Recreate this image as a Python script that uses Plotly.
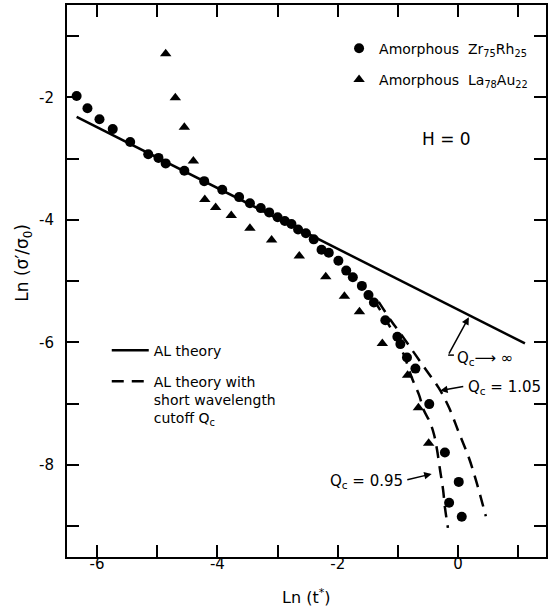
import plotly.graph_objects as go

# Amorphous Zr75Rh25 (circles)
zr_x = [-6.34, -6.16, -5.96, -5.74, -5.45, -5.15, -4.98, -4.86, -4.55, -4.22,
        -3.92, -3.64, -3.46, -3.28, -3.14, -3.00, -2.88, -2.77, -2.66, -2.53,
        -2.40, -2.27, -2.15, -1.99, -1.86, -1.75, -1.60, -1.49, -1.40, -1.21,
        -1.01, -0.96, -0.85, -0.71, -0.48, -0.22, 0.01, -0.15, 0.06]
zr_y = [-1.98, -2.18, -2.36, -2.52, -2.73, -2.93, -2.99, -3.08, -3.20, -3.37,
        -3.51, -3.63, -3.73, -3.81, -3.88, -3.96, -4.02, -4.07, -4.16, -4.22,
        -4.32, -4.49, -4.54, -4.67, -4.83, -4.94, -5.08, -5.23, -5.35, -5.64,
        -5.91, -6.03, -6.25, -6.43, -7.01, -7.80, -8.28, -8.62, -8.85]

# Amorphous La78Au22 (triangles)
la_x = [-4.86, -4.70, -4.55, -4.40, -4.21, -4.03, -3.77, -3.46, -3.10, -2.64,
        -2.20, -1.89, -1.64, -1.26, -0.84, -0.66, -0.49]
la_y = [-1.29, -2.01, -2.49, -3.04, -3.67, -3.80, -3.93, -4.14, -4.33, -4.59,
        -4.93, -5.25, -5.50, -6.02, -6.54, -7.07, -7.65]

# AL theory (solid line)
al_x = [-6.34, 1.11]
al_y = [-2.32, -6.02]

# AL theory with cutoff Qc = 1.05 (dashed)
q105_x = [-1.32, -1.12, -0.92, -0.72, -0.52, -0.32, -0.15, 0.01, 0.18, 0.31, 0.46]
q105_y = [-5.34, -5.64, -5.91, -6.19, -6.47, -6.75, -7.07, -7.47, -7.89, -8.30, -8.84]

# AL theory with cutoff Qc = 0.95 (dashed)
q095_x = [-1.40, -1.22, -1.05, -0.90, -0.77, -0.65, -0.57, -0.47, -0.40, -0.35,
          -0.30, -0.25, -0.22, -0.17]
q095_y = [-5.31, -5.60, -5.90, -6.21, -6.58, -6.86, -7.11, -7.30, -7.51, -7.76,
          -8.09, -8.41, -8.69, -9.03]

x_ticks = [-6, -5, -4, -3, -2, -1, 0, 1]
x_labels = ["-6", " ", "-4", " ", "-2", " ", "0", " "]
y_ticks = [-1, -2, -3, -4, -5, -6, -7, -8, -9]
y_labels = [" ", "-2", " ", "-4", " ", "-6", " ", "-8", " "]

X_RANGE = [-6.50, 1.46]
Y_RANGE = [-9.506, -0.494]

FONT = "DejaVu Sans"
DASH = "12px,8px"

fig = go.Figure()

fig.add_trace(go.Scatter(
    x=al_x, y=al_y, mode="lines", name="AL theory",
    line=dict(color="black", width=2.5),
    legend="legend2", legendgroup="al"))
fig.add_trace(go.Scatter(
    x=q105_x, y=q105_y, mode="lines", line_shape="spline",
    name="AL theory with<br>short wavelength<br>cutoff Q<sub>c</sub>",
    line=dict(color="black", width=2.5, dash=DASH),
    legend="legend2", legendgroup="alc"))
fig.add_trace(go.Scatter(
    x=q095_x, y=q095_y, mode="lines", line_shape="spline",
    name="cutoff 0.95", showlegend=False,
    line=dict(color="black", width=2.5, dash=DASH),
    legend="legend2", legendgroup="alc"))

fig.add_trace(go.Scatter(
    x=zr_x, y=zr_y, mode="markers",
    name="Amorphous  Zr<sub>75</sub>Rh<sub>25</sub>",
    marker=dict(symbol="circle", size=10, color="black"),
    legend="legend", legendgroup="zr"))
fig.add_trace(go.Scatter(
    x=la_x, y=la_y, mode="markers",
    name="Amorphous  La<sub>78</sub>Au<sub>22</sub>",
    marker=dict(symbol="triangle-up", size=10, color="black"),
    legend="legend", legendgroup="la"))

# empty trace so the top/right tick axes are drawn
fig.add_trace(go.Scatter(x=[], y=[], xaxis="x2", yaxis="y2", showlegend=False,
                         hoverinfo="skip"))

axis_common = dict(
    showline=True, linecolor="black", linewidth=2, automargin=False,
    ticks="inside", ticklen=12, tickwidth=2, tickcolor="black",
    showgrid=False, zeroline=False,
)
label_font = dict(family=FONT, size=15, color="black")

fig.update_layout(
    xaxis=dict(range=X_RANGE, tickvals=x_ticks, ticktext=x_labels,
               ticklabelstandoff=-8, tickfont=label_font, **axis_common),
    yaxis=dict(range=Y_RANGE, tickvals=y_ticks, ticktext=y_labels,
               ticklabelstandoff=8, tickfont=label_font, **axis_common),
    xaxis2=dict(range=X_RANGE, tickvals=x_ticks, overlaying="x", side="top",
                anchor="y2", showticklabels=False, **axis_common),
    yaxis2=dict(range=Y_RANGE, tickvals=y_ticks, overlaying="y", side="right",
                anchor="x2", showticklabels=False, **axis_common),
)

annotations = [
    # x-axis title
    dict(text="Ln (t<sup>*</sup>)", xref="paper", yref="paper", x=0.5, y=-0.072,
         showarrow=False, xanchor="center", yanchor="middle",
         font=dict(family=FONT, size=16, color="black")),
    # y-axis title
    dict(text="Ln (σ′/σ<sub>0</sub>)", xref="paper", yref="paper", x=-0.09, y=0.533,
         showarrow=False, textangle=-90, xanchor="center", yanchor="middle",
         font=dict(family=FONT, size=17, color="black")),
    dict(text="H = 0", x=-0.20, y=-2.68, xref="x", yref="y", showarrow=False,
         font=dict(family=FONT, size=17, color="black")),
    # Qc -> infinity
    dict(text="", x=0.178, y=-5.59, ax=-0.166, ay=-6.21, xref="x", yref="y",
         axref="x", ayref="y", showarrow=True, arrowhead=2, arrowsize=1,
         arrowwidth=1.5, arrowcolor="black", standoff=0),
    dict(text="Q<sub>c</sub>⟶ ∞", x=-0.05, y=-6.26, xref="x", yref="y",
         showarrow=False, xanchor="left", yanchor="middle",
         font=dict(family=FONT, size=15, color="black")),
    # Qc = 1.05
    dict(text="", x=-0.30, y=-6.79, ax=0.11, ay=-6.72, xref="x", yref="y",
         axref="x", ayref="y", showarrow=True, arrowhead=2, arrowsize=1,
         arrowwidth=1.5, arrowcolor="black", standoff=0),
    dict(text="Q<sub>c</sub> = 1.05", x=0.13, y=-6.74, xref="x", yref="y",
         showarrow=False, xanchor="left", yanchor="middle",
         font=dict(family=FONT, size=15, color="black")),
    # Qc = 0.95
    dict(text="", x=-0.44, y=-8.15, ax=-0.87, ay=-8.25, xref="x", yref="y",
         axref="x", ayref="y", showarrow=True, arrowhead=2, arrowsize=1,
         arrowwidth=1.5, arrowcolor="black", standoff=0),
    dict(text="Q<sub>c</sub> = 0.95", x=-0.89, y=-8.27, xref="x", yref="y",
         showarrow=False, xanchor="right", yanchor="middle",
         font=dict(family=FONT, size=15, color="black")),
]

shapes = [
    dict(type="line", xref="x", yref="y", x0=-0.166, y0=-6.21, x1=-0.07, y1=-6.21,
         line=dict(color="black", width=1.5)),
]

fig.update_layout(
    width=548, height=607,
    margin=dict(l=67, r=2, t=5, b=50),
    paper_bgcolor="white", plot_bgcolor="white",
    annotations=annotations, shapes=shapes,
    legend=dict(x=0.568, y=0.95, xanchor="left", yanchor="top",
                bgcolor="rgba(0,0,0,0)", tracegroupgap=10,
                font=dict(family=FONT, size=14, color="black")),
    legend2=dict(x=0.083, y=0.403, xanchor="left", yanchor="top",
                 bgcolor="rgba(0,0,0,0)", tracegroupgap=10, valign="top",
                 itemwidth=37,
                 font=dict(family=FONT, size=14, color="black")),
)

fig.write_html(
    "out.html",
    config={"displayModeBar": False},
    post_script="document.body.style.margin='0';document.body.style.overflow='hidden';",
)
